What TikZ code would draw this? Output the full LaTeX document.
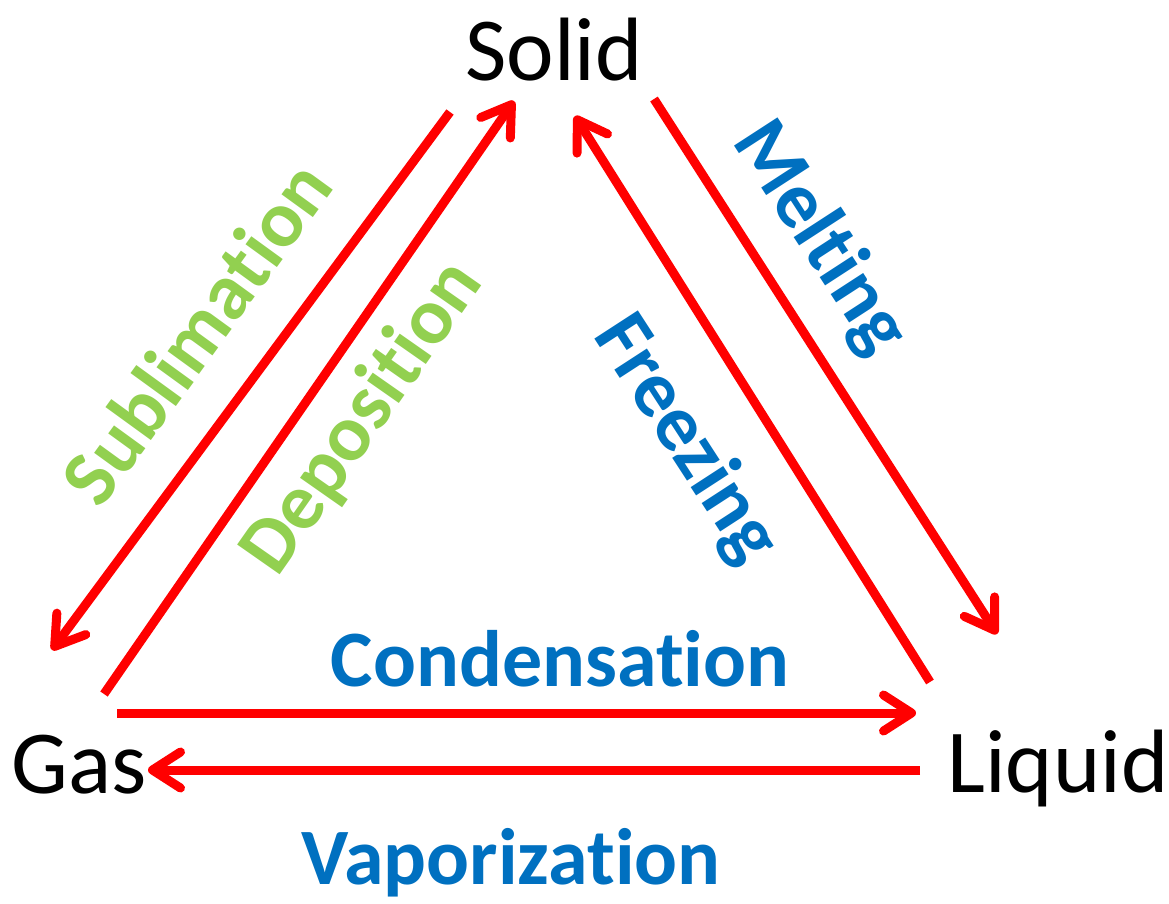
\documentclass[tikz,border=0pt]{standalone}
\usepackage{fontspec}
\setmainfont{Carlito}[RawFeature={-liga;-clig;-dlig;-calt}]
\usetikzlibrary{arrows.meta}
\definecolor{sred}{HTML}{FF0000}
\definecolor{sgreen}{HTML}{92D050}
\definecolor{sblue}{HTML}{0070C0}
\newcommand{\nolig}{\kern0pt{}}
\begin{document}
\begin{tikzpicture}[x=1pt,y=-1pt,
  phase/.style={font=\fontsize{90}{96}\selectfont, inner sep=0pt, anchor=base, text=black},
  lab/.style={font=\bfseries\fontsize{80}{86}\selectfont, inner sep=0pt},
  greenlab/.style={lab, text=sgreen},
  bluelab/.style={lab, text=sblue},
  arr/.style={draw=sred, line width=9pt, line cap=butt,
    -{Straight Barb[length=28pt,width=36pt,line cap=round,line join=round]}}]
\useasboundingbox (0,0) rectangle (1169,903);
\node[phase] (solid) at (554,80) {Solid};
\node[phase] (gas) at (79,793) {Gas};
\node[phase] (liquid) at (1058,792) {Liquid};
\coordinate (subA) at (450,112);
\coordinate (subB) at (52,650);
\coordinate (depA) at (104,694);
\coordinate (depB) at (514,101);
\coordinate (frzA) at (930,682);
\coordinate (frzB) at (575,116);
\coordinate (melA) at (654,99);
\coordinate (melB) at (997,634);
\coordinate (conA) at (117,713);
\coordinate (conB) at (916,713);
\coordinate (vapA) at (920,770);
\coordinate (vapB) at (148,770);
\draw[arr] (subA) -- (subB);
\draw[arr] (depA) -- (depB);
\draw[arr] (frzA) -- (frzB);
\draw[arr] (melA) -- (melB);
\draw[arr] (conA) -- (conB);
\draw[arr] (vapA) -- (vapB);
\node[greenlab, rotate=54] (sublimation) at (196,332) {Sublimat\nolig ion};
\node[greenlab, rotate=55] (deposition) at (363,418) {Deposit\nolig ion};
\node[bluelab, rotate=-57] (freezing) at (686,440) {Freezing};
\node[bluelab, rotate=-57] (melting) at (820,238) {Melt\nolig ing};
\node[bluelab, anchor=base] (condensation) at (560,686) {Condensat\nolig ion};
\node[bluelab, anchor=base] (vaporization) at (511,884) {Vaporizat\nolig ion};
\end{tikzpicture}
\end{document}
